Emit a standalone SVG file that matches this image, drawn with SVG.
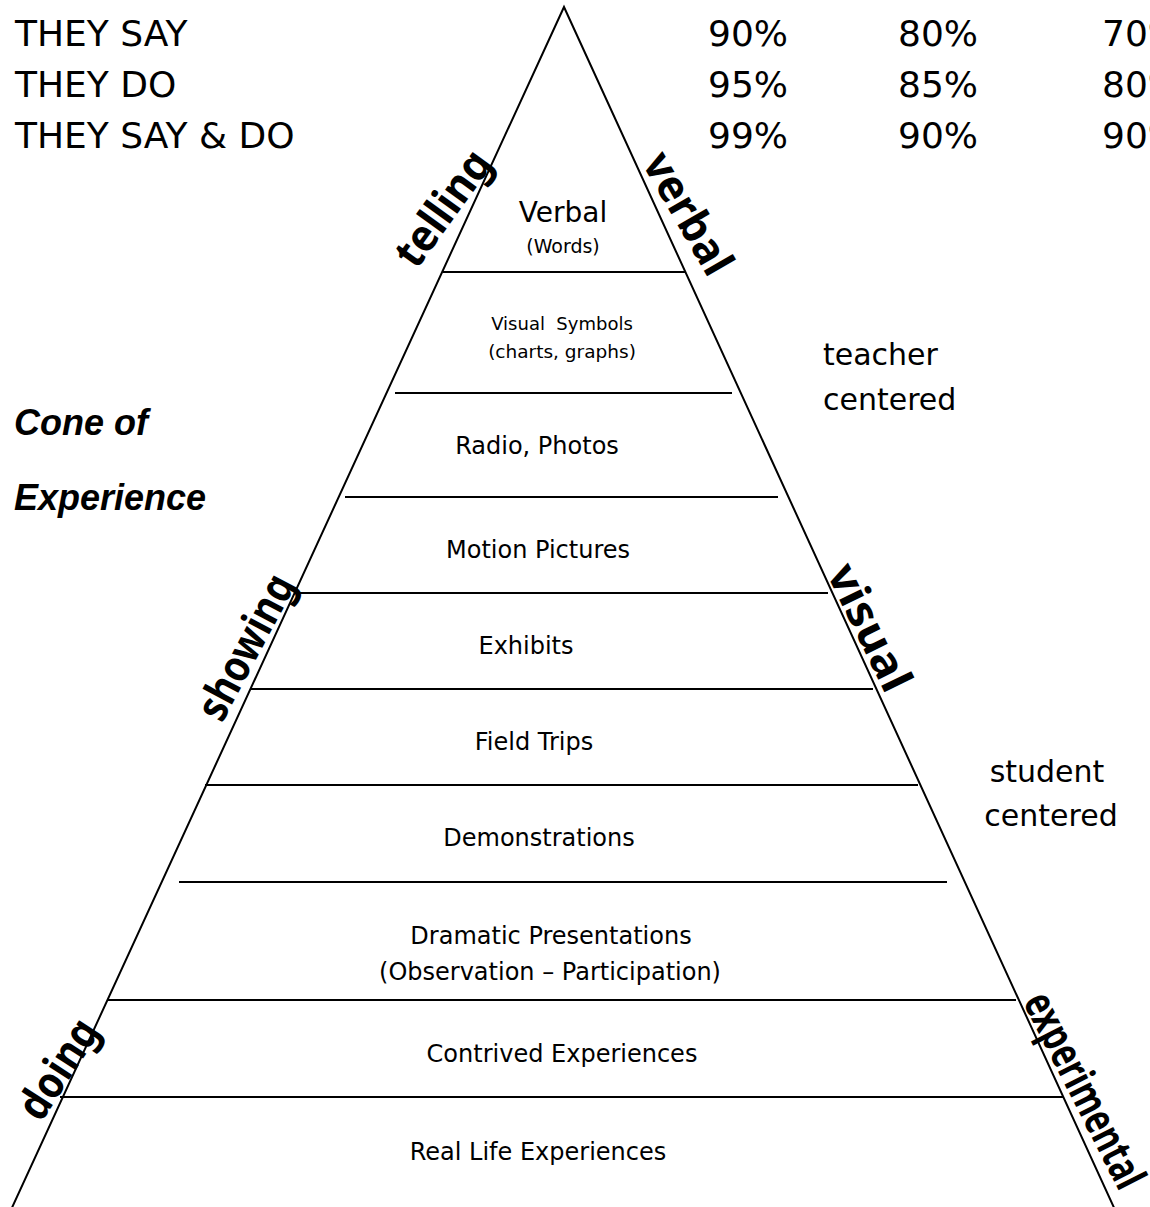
<svg xmlns="http://www.w3.org/2000/svg" width="1150" height="1207" viewBox="0 0 1150 1207">
  <style>
    .hand { font-family: "Comic Sans MS", "DejaVu Sans", sans-serif; fill: #000; }
    .head { font-size: 36px; }
    .side { font-size: 30px; }
    .tier { font-size: 24px; text-anchor: middle; }
    .edge { font-family: "Comic Sans MS", "Noto Sans", sans-serif; font-weight: bold; font-size: 44px; text-anchor: middle; fill: #000; }
    .title { font-family: "Liberation Sans", Arial, sans-serif; font-weight: bold; font-style: italic; font-size: 36px; fill: #000; }
    .outline { stroke: #000; stroke-width: 2; fill: none; }
    .band { stroke: #000; stroke-width: 1.8; }
  </style>

  <rect width="1150" height="1207" fill="#fff"/>

  <!-- retention table -->
  <g id="retention" class="hand head">
    <text x="15" y="46">THEY SAY</text>
    <text x="15" y="97">THEY DO</text>
    <text x="15" y="148">THEY SAY &amp; DO</text>
    <text x="708" y="46">90%</text>
    <text x="708" y="97">95%</text>
    <text x="708" y="148">99%</text>
    <text x="898" y="46">80%</text>
    <text x="898" y="97">85%</text>
    <text x="898" y="148">90%</text>
    <text x="1102" y="46">70%</text>
    <text x="1102" y="97">80%</text>
    <text x="1102" y="148">90%</text>
  </g>

  <!-- the cone outline -->
  <g id="cone">
    <polyline class="outline" points="10,1212 564,7 1116,1212"/>
  </g>

  <!-- tier dividers -->
  <g id="connectors">
    <line class="band" x1="443" y1="272" x2="685" y2="272"/>
    <line class="band" x1="395" y1="393" x2="732" y2="393"/>
    <line class="band" x1="345" y1="497" x2="778" y2="497"/>
    <line class="band" x1="298" y1="593" x2="828" y2="593"/>
    <line class="band" x1="250" y1="689" x2="873" y2="689"/>
    <line class="band" x1="205" y1="785" x2="918" y2="785"/>
    <line class="band" x1="179" y1="882" x2="947" y2="882"/>
    <line class="band" x1="107" y1="1000" x2="1016" y2="1000"/>
    <line class="band" x1="60" y1="1097" x2="1064" y2="1097"/>
  </g>

  <!-- tiers, top to bottom -->
  <g id="tier-verbal" class="hand tier">
    <text x="563" y="222" style="font-size:28px">Verbal</text>
    <text x="563" y="253" style="font-size:19px">(Words)</text>
  </g>
  <g id="tier-symbols" class="hand tier">
    <text x="562" y="330" style="font-size:18px" xml:space="preserve">Visual  Symbols</text>
    <text x="562" y="358" style="font-size:18.5px">(charts, graphs)</text>
  </g>
  <g id="tier-radio" class="hand tier"><text x="537" y="454">Radio, Photos</text></g>
  <g id="tier-motion" class="hand tier"><text x="538" y="558">Motion Pictures</text></g>
  <g id="tier-exhibits" class="hand tier"><text x="526" y="654">Exhibits</text></g>
  <g id="tier-trips" class="hand tier"><text x="534" y="750">Field Trips</text></g>
  <g id="tier-demos" class="hand tier"><text x="539" y="846">Demonstrations</text></g>
  <g id="tier-drama" class="hand tier">
    <text x="551" y="944">Dramatic Presentations</text>
    <text x="550" y="980">(Observation – Participation)</text>
  </g>
  <g id="tier-contrived" class="hand tier"><text x="562" y="1062">Contrived Experiences</text></g>
  <g id="tier-real" class="hand tier"><text x="538" y="1160">Real Life Experiences</text></g>

  <!-- labels running along the sides -->
  <g id="edge-telling"><text class="edge" transform="translate(455,217) rotate(-54)" textLength="132" lengthAdjust="spacingAndGlyphs">telling</text></g>
  <g id="edge-verbal"><text class="edge" transform="translate(675,221) rotate(60)" textLength="134" lengthAdjust="spacingAndGlyphs">verbal</text></g>
  <g id="edge-showing"><text class="edge" transform="translate(259,654) rotate(-62)" textLength="158" lengthAdjust="spacingAndGlyphs">showing</text></g>
  <g id="edge-visual"><text class="edge" transform="translate(856,634) rotate(64)" textLength="136" lengthAdjust="spacingAndGlyphs">visual</text></g>
  <g id="edge-doing"><text class="edge" transform="translate(71,1077) rotate(-57)" textLength="110" lengthAdjust="spacingAndGlyphs">doing</text></g>
  <g id="edge-experimental"><text class="edge" transform="translate(1071,1097) rotate(63)" textLength="214" lengthAdjust="spacingAndGlyphs">experimental</text></g>

  <!-- side notes -->
  <g id="teacher-centered" class="hand side">
    <text x="823" y="365">teacher</text>
    <text x="823" y="410">centered</text>
  </g>
  <g id="student-centered" class="hand side" text-anchor="middle">
    <text x="1047" y="782">student</text>
    <text x="1051" y="826">centered</text>
  </g>

  <!-- title -->
  <g id="title">
    <text class="title" x="14" y="435">Cone of</text>
    <text class="title" x="14" y="510">Experience</text>
  </g>
</svg>
